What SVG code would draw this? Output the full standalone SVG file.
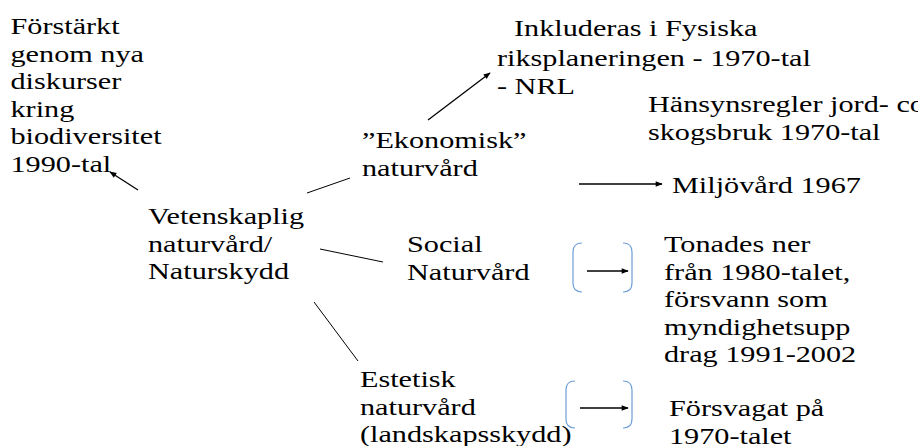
<svg xmlns="http://www.w3.org/2000/svg" width="918" height="446" viewBox="0 0 918 446">
<defs>
<style>
text{font-family:'Liberation Serif','DejaVu Serif',serif;font-size:24px;fill:#000}
.ln{stroke:#000;stroke-width:1;fill:none}
.ar{stroke:#000;stroke-width:1.3;fill:none;marker-end:url(#ah)}
.br{stroke:#6e9fd8;stroke-width:1.2;fill:none}
</style>
<marker id="ah" viewBox="0 0 10 10" refX="9" refY="5" markerWidth="8" markerHeight="7" markerUnits="userSpaceOnUse" orient="auto">
<path d="M0,1 L10,5 L0,9 z" fill="#000"/>
</marker>
</defs>
<rect width="918" height="446" fill="#fff"/>

<g id="connectors">
<line class="ar" x1="138" y1="190" x2="110" y2="172"/>
<line class="ln" x1="307" y1="193" x2="350" y2="178"/>
<line class="ar" x1="428" y1="120" x2="490" y2="73"/>
<line class="ar" x1="579" y1="184" x2="662" y2="184"/>
<line class="ln" x1="320" y1="249" x2="383" y2="262"/>
<line class="ln" x1="314" y1="302" x2="358" y2="361"/>
<line class="ar" x1="587" y1="271" x2="628" y2="271"/>
<line class="ar" x1="580" y1="408" x2="628" y2="408"/>
</g>

<g id="bracket-social">
<path class="br" d="M582,243 Q573,243 573,252 L573,283 Q573,292 582,292"/>
<path class="br" d="M623,243 Q632,243 632,252 L632,283 Q632,292 623,292"/>
</g>
<g id="bracket-estetisk">
<path class="br" d="M575,381 Q566,381 566,390 L566,419 Q566,428 575,428"/>
<path class="br" d="M623,381 Q632,381 632,390 L632,419 Q632,428 623,428"/>
</g>

<g font-family="Liberation Serif, DejaVu Serif, serif">
<g id="node-forstarkt">
<text transform="translate(10.5,34) scale(1.26,1)"><tspan x="0">Förstärkt</tspan><tspan x="0" dy="27.6">genom nya</tspan><tspan x="0" dy="27.6">diskurser</tspan><tspan x="0" dy="27.6">kring</tspan><tspan x="0" dy="27.6">biodiversitet</tspan><tspan x="0" dy="27.6">1990-tal</tspan></text>
</g>
<g id="node-inkluderas">
<text transform="translate(514,36) scale(1.26,1)"><tspan x="0">Inkluderas i Fysiska</tspan></text>
<text transform="translate(497,66) scale(1.26,1)"><tspan x="0">riksplaneringen - 1970-tal</tspan><tspan x="0" dy="28">- NRL</tspan></text>
</g>
<g id="node-hansyn">
<text transform="translate(648,112) scale(1.26,1)"><tspan x="0">Hänsynsregler jord- co</tspan><tspan x="0" dy="27.6">skogsbruk 1970-tal</tspan></text>
</g>
<g id="node-ekonomisk">
<text transform="translate(362,148) scale(1.26,1)"><tspan x="0">”Ekonomisk”</tspan><tspan x="0" dy="27.6">naturvård</tspan></text>
</g>
<g id="node-miljovard">
<text transform="translate(672,193) scale(1.26,1)">Miljövård 1967</text>
</g>
<g id="node-vetenskaplig">
<text transform="translate(148,224) scale(1.26,1)"><tspan x="0">Vetenskaplig</tspan><tspan x="0" dy="27.6">naturvård/</tspan><tspan x="0" dy="27.6">Naturskydd</tspan></text>
</g>
<g id="node-social">
<text transform="translate(407,252) scale(1.26,1)"><tspan x="0">Social</tspan><tspan x="0" dy="27.6">Naturvård</tspan></text>
</g>
<g id="node-tonades">
<text transform="translate(664,252) scale(1.26,1)"><tspan x="0">Tonades ner</tspan><tspan x="0" dy="27.6">från 1980-talet,</tspan><tspan x="0" dy="27.6">försvann som</tspan><tspan x="0" dy="27.6">myndighetsupp</tspan><tspan x="0" dy="27.6">drag 1991-2002</tspan></text>
</g>
<g id="node-estetisk">
<text transform="translate(360,387) scale(1.26,1)"><tspan x="0">Estetisk</tspan><tspan x="0" dy="27.6">naturvård</tspan><tspan x="0" dy="27.6">(landskapsskydd)</tspan></text>
</g>
<g id="node-forsvagat">
<text transform="translate(669,416) scale(1.26,1)"><tspan x="0">Försvagat på</tspan><tspan x="0" dy="27.6">1970-talet</tspan></text>
</g>
</g>
</svg>
